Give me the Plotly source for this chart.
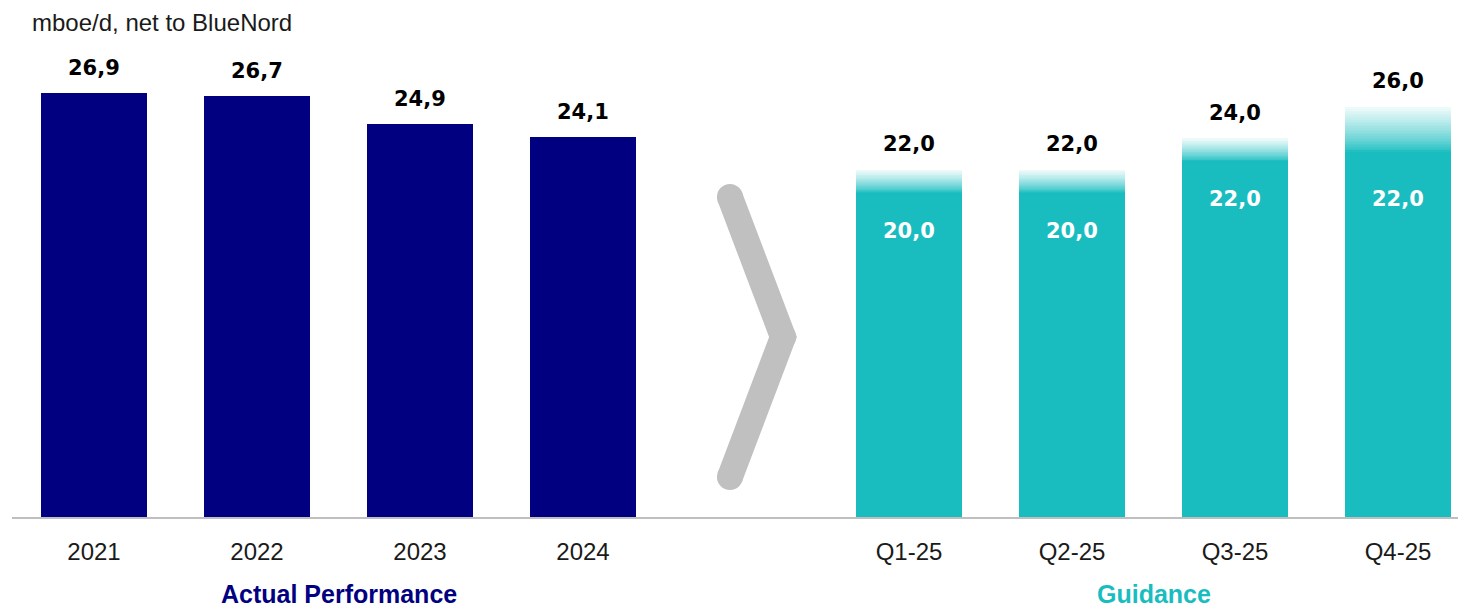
import plotly.graph_objects as go

# ---------------- data ----------------
actual_years = ["2021", "2022", "2023", "2024"]
actual_values = [26.9, 26.7, 24.9, 24.1]

guidance_quarters = ["Q1-25", "Q2-25", "Q3-25", "Q4-25"]
guidance_low = [20.0, 20.0, 22.0, 22.0]
guidance_high = [22.0, 22.0, 24.0, 26.0]

y_unit_title = "mboe/d, net to BlueNord"
group_labels = ["Actual Performance", "Guidance"]

# ---------------- style ----------------
NAVY = "#000080"
TEAL = "#19BDBF"
GREY = "#C0C0C0"
BAR_W = 0.65

def fmt(v):
    return f"{v:.1f}".replace(".", ",")

# x positions: actual slots 0..3, empty slot 4 (chevron), guidance 5..8
x_actual = list(range(len(actual_years)))
x_guid = [len(actual_years) + 1 + i for i in range(len(guidance_quarters))]

fig = go.Figure()

# Actual bars
fig.add_trace(go.Bar(
    x=x_actual, y=actual_values, width=BAR_W,
    marker=dict(color=NAVY, line=dict(width=0)),
    hoverinfo="skip", showlegend=False,
))

# Guidance solid part
fig.add_trace(go.Bar(
    x=x_guid, y=guidance_low, width=BAR_W,
    marker=dict(color=TEAL, line=dict(width=0)),
    hoverinfo="skip", showlegend=False,
))

# Guidance gradient range (low -> high) built from thin stacked slices
def hex_to_rgb(h):
    h = h.lstrip("#")
    return tuple(int(h[i:i + 2], 16) for i in (0, 2, 4))

tr, tg, tb = hex_to_rgb(TEAL)
N = 40
for k in range(N):
    f = (k + 0.5) / N
    t = max(0.0, (f - 0.3) / 0.7)
    mix = min(1.0, t ** 0.75) * 0.93
    col = "rgb(%d,%d,%d)" % (
        round(tr + (255 - tr) * mix),
        round(tg + (255 - tg) * mix),
        round(tb + (255 - tb) * mix),
    )
    bases = [lo + (hi - lo) * k / N for lo, hi in zip(guidance_low, guidance_high)]
    heights = [(hi - lo) / N * 1.02 for lo, hi in zip(guidance_low, guidance_high)]
    fig.add_trace(go.Bar(
        x=x_guid, y=heights, base=bases, width=BAR_W,
        marker=dict(color=col, line=dict(width=0)),
        hoverinfo="skip", showlegend=False,
    ))

annotations = []
VAL_FONT = dict(family="DejaVu Sans", size=21, color="#000000")
# labels above actual bars
for x, v in zip(x_actual, actual_values):
    annotations.append(dict(
        x=x, y=v, xref="x", yref="y", text="<b>%s</b>" % fmt(v),
        showarrow=False, yanchor="bottom", yshift=11, font=VAL_FONT,
    ))
# labels above guidance range and inside solid bars
for x, lo, hi in zip(x_guid, guidance_low, guidance_high):
    annotations.append(dict(
        x=x, y=hi, xref="x", yref="y", text="<b>%s</b>" % fmt(hi),
        showarrow=False, yanchor="bottom", yshift=12, font=VAL_FONT,
    ))
    annotations.append(dict(
        x=x, y=lo, xref="x", yref="y", text="<b>%s</b>" % fmt(lo),
        showarrow=False, yanchor="top", yshift=-15,
        font=dict(family="DejaVu Sans", size=21, color="#FFFFFF"),
    ))

# unit title
annotations.append(dict(
    x=0.0125, y=1.0465, xref="paper", yref="paper", text=y_unit_title,
    showarrow=False, xanchor="left", yanchor="middle",
    font=dict(family="Liberation Sans", size=24, color="#1a1a1a"),
))
# group labels
annotations.append(dict(
    x=(x_actual[0] + x_actual[-1]) / 2, y=-0.162, xref="x", yref="paper",
    text="<b>%s</b>" % group_labels[0], showarrow=False, yanchor="middle",
    font=dict(family="Liberation Sans", size=25, color=NAVY),
))
annotations.append(dict(
    x=(x_guid[0] + x_guid[-1]) / 2, y=-0.162, xref="x", yref="paper",
    text="<b>%s</b>" % group_labels[1], showarrow=False, yanchor="middle",
    font=dict(family="Liberation Sans", size=25, color=TEAL),
))

# chevron decoration (paper coords)
pts = [(0.4965, 0.6765), (0.5332, 0.3805), (0.4965, 0.0846)]
shapes = [dict(
    type="path", xref="paper", yref="paper",
    path="M %f,%f L %f,%f L %f,%f" % (pts[0] + pts[1] + pts[2]),
    line=dict(color=GREY, width=26), layer="above",
)]
for (px, py) in pts:
    shapes.append(dict(
        type="circle", xref="paper", yref="paper",
        xsizemode="pixel", ysizemode="pixel", xanchor=px, yanchor=py,
        x0=-13, x1=13, y0=-13, y1=13,
        fillcolor=GREY, line=dict(width=0), layer="above",
    ))

fig.update_layout(
    width=1458, height=607,
    margin=dict(l=12, r=0, t=44, b=90),
    paper_bgcolor="white", plot_bgcolor="white",
    barmode="overlay", bargap=0,
    showlegend=False,
    annotations=annotations,
    shapes=shapes,
    xaxis=dict(
        range=[-0.503, 8.368], tickmode="array",
        tickvals=x_actual + x_guid, ticktext=actual_years + guidance_quarters,
        showgrid=False, zeroline=False, showline=True,
        linecolor="#BFBFBF", linewidth=2, ticks="",
        tickfont=dict(family="Liberation Sans", size=24, color="#1a1a1a"),
        ticklabelstandoff=12, fixedrange=True,
    ),
    yaxis=dict(
        range=[0, 30], showgrid=False, zeroline=False, showline=False,
        showticklabels=False, ticks="", fixedrange=True,
    ),
)

fig.write_html("out.html")
